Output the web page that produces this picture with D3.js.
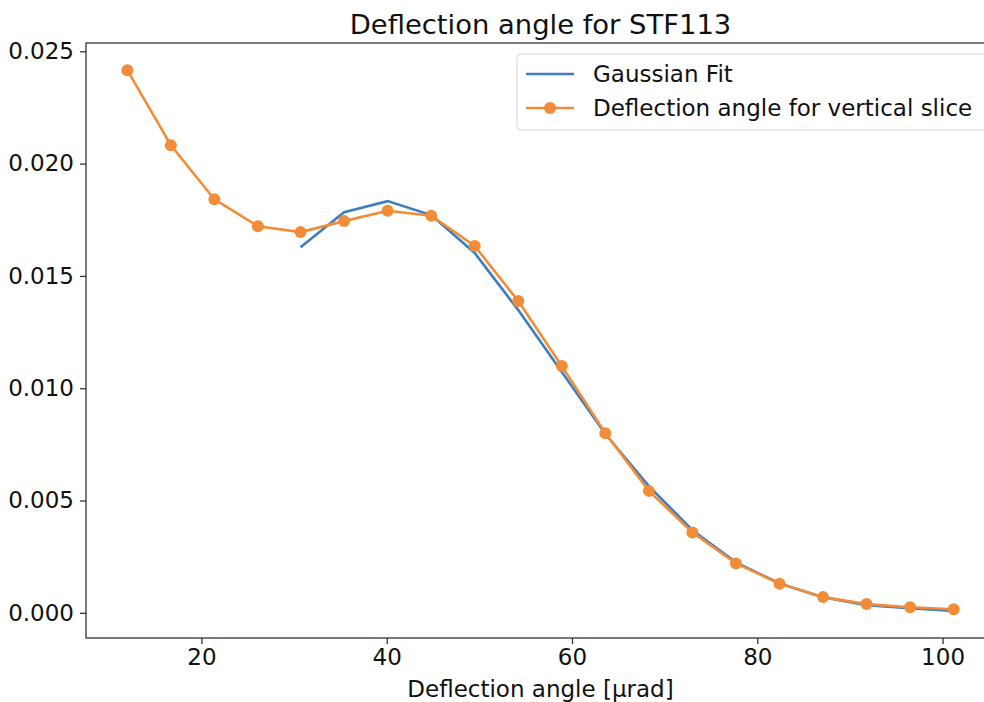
<!DOCTYPE html>
<html>
<head>
<meta charset="utf-8">
<script src="https://cdn.jsdelivr.net/npm/d3@7"></script>
<style>
  body { margin: 0; background: #fff; }
  svg { display: block; }
</style>
</head>
<body>
<script>
const W = 984
const H = 702
const margin = { left: 86, top: 43, right: -11, bottom: 64 }

const angles = [12.0, 16.7, 21.4, 26.1, 30.7, 35.4, 40.1, 44.8, 49.5, 54.2,
  58.9, 63.6, 68.3, 73.0, 77.7, 82.4, 87.1, 91.8, 96.5, 101.2]
const slice = [0.02416, 0.02082, 0.01841, 0.01721, 0.01695, 0.01744, 0.01790, 0.01768, 0.01633, 0.01388,
  0.01099, 0.00800, 0.00543, 0.00358, 0.00220, 0.00130, 0.00070, 0.00039, 0.00025, 0.00016]
// gaussian fit only starts at the 5th point
const fitAngles = angles.slice(4)
const fit = [0.01628, 0.01784, 0.01833, 0.01771, 0.01602, 0.01348, 0.01072, 0.00796,
  0.00564, 0.00368, 0.00225, 0.00131, 0.00070, 0.00034, 0.00021, 0.00008]
const xTicks = [20, 40, 60, 80, 100]
const yTicks = [0, 0.005, 0.010, 0.015, 0.020, 0.025]

const blue = '#3d7ebf'
const orange = '#f28c38'
const font = 'DejaVu Sans, sans-serif'

const width = W - margin.left - margin.right
const height = H - margin.top - margin.bottom

const svg = d3.select('body').append('svg')
  .attr('width', W)
  .attr('height', H)
  .style('font-family', font)

const g = svg.append('g').attr('transform', `translate(${margin.left},${margin.top})`)

const x = d3.scaleLinear().domain([7.54, 105.66]).range([0, width])
const y = d3.scaleLinear().domain([-0.00112, 0.02537]).range([height, 0])

const line = d3.line().x(d => x(d[0])).y(d => y(d[1]))

g.append('path')
  .datum(fitAngles.map((a, i) => [a, fit[i]]))
  .attr('fill', 'none')
  .attr('stroke', blue)
  .attr('stroke-width', 2.6)
  .attr('d', line)

const pts = angles.map((a, i) => [a, slice[i]])
g.append('path')
  .datum(pts)
  .attr('fill', 'none')
  .attr('stroke', orange)
  .attr('stroke-width', 2.6)
  .attr('d', line)

g.append('g').selectAll('circle')
  .data(pts).enter()
  .append('circle')
  .attr('cx', d => x(d[0]))
  .attr('cy', d => y(d[1]))
  .attr('r', 6)
  .attr('fill', orange)

// axes
const xAxis = g.append('g')
  .attr('transform', `translate(0,${height})`)
  .call(d3.axisBottom(x).tickValues(xTicks).tickSize(6).tickPadding(5))
const yAxis = g.append('g')
  .call(d3.axisLeft(y).tickValues(yTicks).tickFormat(d3.format('.3f')).tickSize(6).tickPadding(6))

for (const ax of [xAxis, yAxis]) {
  ax.select('.domain').remove()
  ax.selectAll('.tick line').attr('stroke', '#333').attr('stroke-width', 1.3)
  ax.selectAll('text')
    .attr('fill', '#111')
    .style('font-family', font)
    .style('font-size', '23px')
}

// spines
g.append('rect')
  .attr('width', width)
  .attr('height', height)
  .attr('fill', 'none')
  .attr('stroke', '#333')
  .attr('stroke-width', 1.3)

svg.append('text')
  .text('Deflection angle for STF113')
  .attr('x', margin.left + width / 2)
  .attr('y', 34)
  .attr('text-anchor', 'middle')
  .style('font-size', '27.4px')
  .attr('fill', '#111')

svg.append('text')
  .text('Deflection angle [µrad]')
  .attr('x', margin.left + width / 2)
  .attr('y', 697)
  .attr('text-anchor', 'middle')
  .style('font-size', '23px')
  .attr('fill', '#111')

// legend
const lg = svg.append('g').attr('transform', 'translate(517,54)')
lg.append('rect')
  .attr('width', 472)
  .attr('height', 76)
  .attr('rx', 4)
  .attr('fill', 'rgba(255,255,255,0.8)')
  .attr('stroke', '#d5d5d5')
  .attr('stroke-width', 1)

const entries = [
  { name: 'Gaussian Fit', color: blue, marker: false },
  { name: 'Deflection angle for vertical slice', color: orange, marker: true }
]
entries.forEach((e, i) => {
  const yy = 20 + i * 34
  lg.append('line')
    .attr('x1', 9).attr('x2', 57)
    .attr('y1', yy).attr('y2', yy)
    .attr('stroke', e.color)
    .attr('stroke-width', 2.6)
  if (e.marker) {
    lg.append('circle').attr('cx', 33).attr('cy', yy).attr('r', 6).attr('fill', e.color)
  }
  lg.append('text')
    .text(e.name)
    .attr('x', 76)
    .attr('y', yy + 8)
    .style('font-size', '23px')
    .attr('fill', '#111')
})
</script>
</body>
</html>
